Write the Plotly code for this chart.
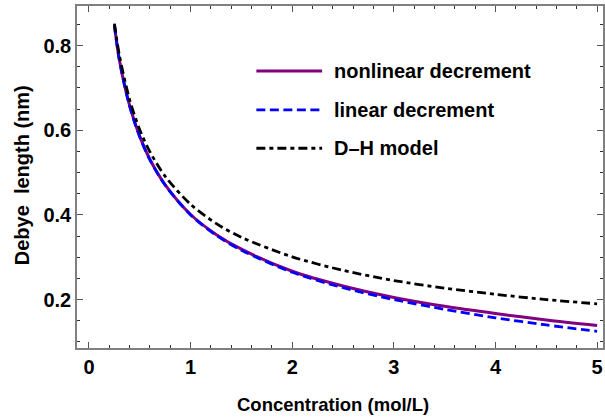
import plotly.graph_objects as go

# Data
conc = [0.25, 0.3, 0.4, 0.5, 0.6, 0.75, 1.0, 1.25, 1.5, 2.0, 2.5, 3.0, 3.5, 4.0, 4.5, 5.0]
nonlinear = [0.848, 0.765, 0.658, 0.585, 0.531, 0.471, 0.401, 0.354, 0.319, 0.267, 0.232, 0.205, 0.184, 0.167, 0.152, 0.139]
linear = [0.848, 0.764, 0.657, 0.584, 0.530, 0.470, 0.400, 0.352, 0.3165, 0.2645, 0.228, 0.200, 0.177, 0.157, 0.140, 0.125]
dh_model = [0.852, 0.776, 0.672, 0.601, 0.549, 0.491, 0.425, 0.380, 0.347, 0.301, 0.269, 0.245, 0.227, 0.2125, 0.200, 0.190]

names = ["nonlinear decrement", "linear decrement", "D\u2013H model"]
colors = ["#800080", "#0000ff", "#000000"]
dashes = ["solid", "9px,4.5px", "9px,4px,4px,4px"]
widths = [3, 2.8, 2.8]
series = [nonlinear, linear, dh_model]

FONT = "Liberation Sans, Arial, sans-serif"

fig = go.Figure()
for name, ys, c, d, w in zip(names, series, colors, dashes, widths):
    fig.add_trace(go.Scatter(x=conc, y=ys, mode="lines", name=name,
                             line=dict(color=c, dash=d, width=w, shape="spline", smoothing=0.8),
                             showlegend=False))

# manual legend (styling)
leg_y = [0.81, 0.696, 0.584]
for name, c, d, w, yy in zip(names, colors, dashes, widths, leg_y):
    fig.add_shape(type="line", xref="paper", yref="paper", x0=0.341, x1=0.466, y0=yy, y1=yy,
                  line=dict(color=c, dash=d, width=w))
    fig.add_annotation(text=name, xref="paper", yref="paper", x=0.485, y=yy,
                       xanchor="left", yanchor="middle", showarrow=False,
                       font=dict(family=FONT, size=20, color="black", weight="bold"))

fig.add_annotation(text="Concentration (mol/L)", xref="paper", yref="paper", x=0.487, y=-0.164,
                   xanchor="center", yanchor="middle", showarrow=False,
                   font=dict(family=FONT, size=18.5, color="black", weight="bold"))
fig.add_annotation(text="Debye\u00a0 length (nm)", xref="paper", yref="paper", x=-0.104, y=0.506,
                   xanchor="center", yanchor="middle", showarrow=False, textangle=-90,
                   font=dict(family=FONT, size=20, color="black", weight="bold"))

axis_common = dict(showgrid=False, zeroline=False, showline=True, linecolor="#808080", linewidth=1.5,
                   mirror="ticks", ticks="inside", tickcolor="#555555", tickwidth=1,
                   tickfont=dict(family=FONT, size=20, color="black", weight="bold"))

fig.update_xaxes(range=[-0.118, 5.058], tickvals=[0, 1, 2, 3, 4, 5], ticklen=6,
                 minor=dict(dtick=0.2, tick0=0, ticks="inside", ticklen=3.5, tickcolor="#333333"),
                 **axis_common)
fig.update_yaxes(range=[0.0856, 0.8936], tickvals=[0.2, 0.4, 0.6, 0.8], ticktext=["0.2", "0.4", "0.6", "0.8"],
                 ticklen=6,
                 minor=dict(dtick=0.05, tick0=0, ticks="inside", ticklen=3.5, tickcolor="#333333"),
                 **axis_common)

fig.update_layout(width=605, height=420, margin=dict(l=77, r=0, t=6, b=72),
                  plot_bgcolor="white", paper_bgcolor="white", showlegend=False)

fig.write_html("out.html")
